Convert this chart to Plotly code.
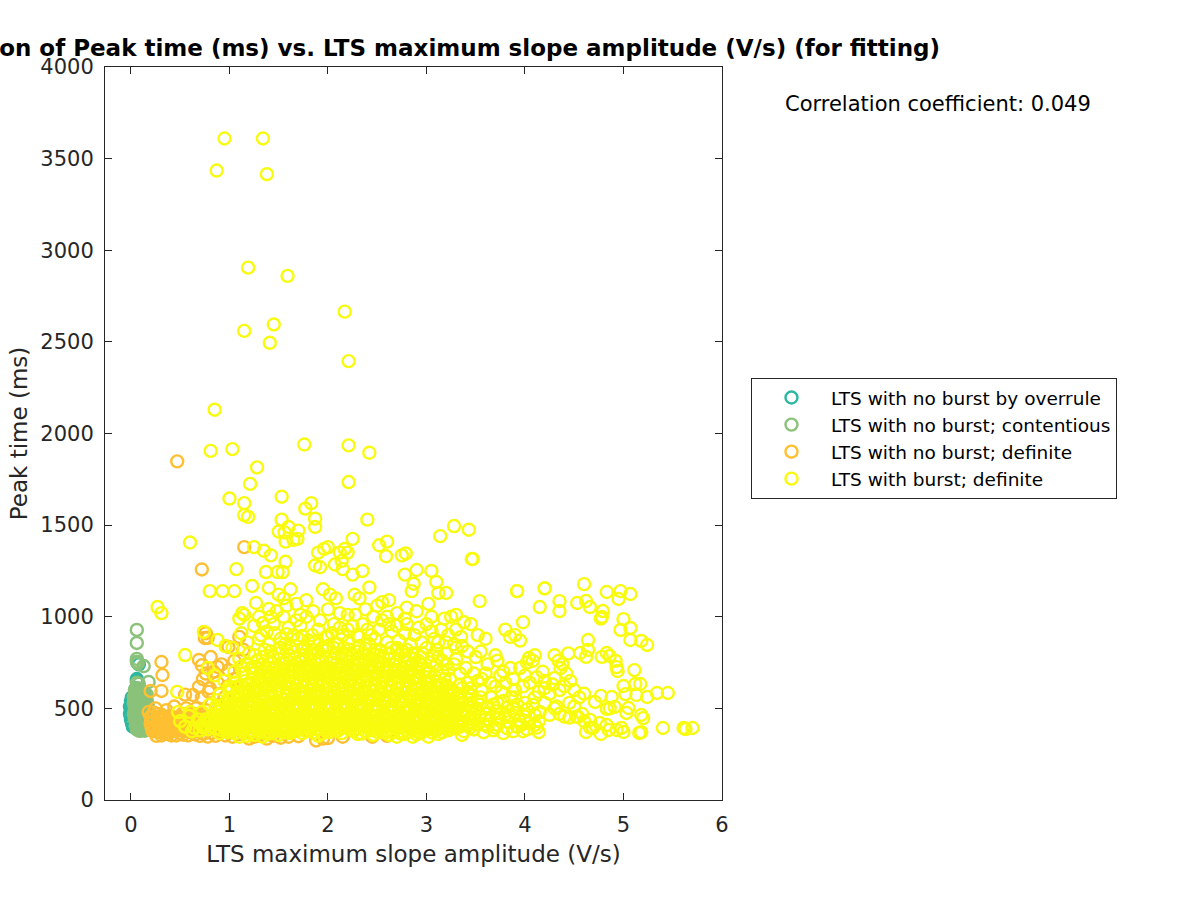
import plotly.graph_objects as go

title_text = "Correlation of Peak time (ms) vs. LTS maximum slope amplitude (V/s) (for fitting)"
x_label = "LTS maximum slope amplitude (V/s)"
y_label = "Peak time (ms)"
corr_text = "Correlation coefficient: 0.049"
names = ["LTS with no burst by overrule", "LTS with no burst; contentious", "LTS with no burst; definite", "LTS with burst; definite"]
colors = ["#2cb7a0", "#8bc27a", "#fec032", "#f9fb0e"]
x_ticks = [0, 1, 2, 3, 4, 5, 6]
y_ticks = [0, 500, 1000, 1500, 2000, 2500, 3000, 3500, 4000]

overrule = [(-.01,470),(-.01,510),(0,440),(0,490),(0,540),(.01,420),(.01,560),(.02,400),(.02,455),(.03,525),(.04,575),(.05,395),(.06,660),(.06,650),(.06,480),(.07,440),(.07,570),(.08,390),(.09,520),(.1,410),(.03,480),(.05,610),(.07,750),(.08,740)]

contentious = [(.06,928),(.06,857),(.06,770),(.06,755),(.07,745),(.13,731),(.18,644),(.08,634),(.06,640),(.1,600),(.13,590),(.04,600),(.07,610),(.15,560),(.03,560),(.06,570),(.1,565),(.14,540),(.17,520),(.03,530),(.07,530),(.11,525),(.04,500),(.08,495),(.12,500),(.16,490),(.03,470),(.07,465),(.11,470),(.15,465),(.18,450),(.04,440),(.08,435),(.12,440),(.16,430),(.05,410),(.09,405),(.13,410),(.17,405),(.07,395),(.11,390),(.15,392),(.19,395),(.06,385),
(.05,585),(.09,580),(.12,575),(.16,575),(.05,550),(.09,548),(.12,552),(.16,545),(.05,515),(.09,512),(.13,515),(.16,510),(.05,485),(.1,483),(.14,482),(.18,478),(.05,455),(.09,452),(.13,455),(.17,448),(.06,425),(.1,422),(.14,424),(.18,420),(.08,415),(.12,398),(.16,400),(.1,378),(.14,378),(.08,378)]

nb_definite = [(.47,1848),(1.15,1380),(.72,1258),(.76,910),(.78,885),(.75,884),(.31,753),(.32,682),(.31,595),(.2,595),(.69,764),(.72,735),(.81,780),(.99,835),(.88,726),(.99,709),(.63,573),(.69,617),(.76,690),(.84,700),(.92,740),(1.05,760),(1.1,890),(1.14,820),(.72,560),(.66,500),(.55,575),(.8,610),(.88,640),(.73,660),(.79,590),
(.18,480),(.22,450),(.25,500),(.28,470),(.32,440),(.36,490),(.4,460),(.44,510),(.48,430),(.52,470),(.56,500),(.6,440),(.64,470),(.68,420),(.72,450),(.76,490),(.2,420),(.24,400),(.28,420),(.32,390),(.36,420),(.4,400),(.44,420),(.48,390),(.52,410),(.56,390),(.6,410),(.64,385),(.68,400),(.72,385),(.76,410),(.8,385),(.84,405),(.88,380),(.92,400),
(.22,375),(.26,350),(.3,370),(.34,380),(.38,360),(.42,375),(.46,352),(.5,365),(.54,375),(.58,352),(.62,368),(.7,350),(.74,362),(.78,346),(.82,365),(.86,350),(.9,368),(.96,352),(1.03,345),(1.1,360),(1.2,335),(1.25,345),(1.38,335),(1.44,350),(1.52,340),(1.6,345),(1.7,348),(1.88,325),(1.95,335),(2.0,338),(2.15,345),(2.45,345),(2.6,350),(1.3,350),(.95,560),(1.0,480),(.9,520),(.98,620),(1.05,660),
(.21,395),(.25,385),(.29,395),(.33,410),(.37,395),(.41,385),(.45,400),(.49,412),(.53,385),(.57,420),(.61,385),(.65,425),(.69,375),(.24,435),(.27,445),(.31,465),(.35,450),(.38,440),(.42,435),(.46,445),(.5,450),(.54,440),(.58,455),(.62,470),(.66,450),(.7,470),(.2,455),(.23,478),(.27,372),(.31,352),(.35,362),(.41,352),(.47,378),(.53,356),(.59,375),(.65,358)]

burst_high = [(.95,3610),(1.34,3610),(1.38,3415),(.87,3435),(1.19,2905),(1.59,2860),(1.45,2595),(1.15,2560),(1.41,2495),(2.17,2665),(2.21,2395),(.85,2130),(.81,1905),(1.03,1915),(1.76,1940),(2.21,1935),(2.42,1895),(1.28,1815),(1.21,1725),(2.21,1735),(1.0,1645),(1.53,1655),(1.83,1620),(1.77,1590),(1.15,1620),(1.15,1555),(1.19,1545),(1.53,1530),(1.87,1535),(1.87,1490),(1.6,1490),(1.56,1460),(1.5,1465),(1.65,1420),(1.69,1425),(1.7,1470),(2.25,1425),(2.4,1530),(.6,1405),(1.57,1410)]

burst_upper = [(1.25,1380),(1.35,1360),(1.42,1335),(1.57,1300),(1.9,1350),(1.96,1370),(2.0,1380),(2.12,1350),(2.17,1370),(2.2,1350),(2.14,1305),(2.07,1285),(2.15,1260),(1.87,1280),(1.92,1270),(2.25,1230),(2.35,1250),(2.52,1390),(2.6,1410),(2.59,1330),(2.75,1335),(2.79,1345),(2.78,1230),(2.9,1255),(3.05,1250),(3.14,1440),(3.28,1495),(3.43,1475),(3.47,1315),(3.1,1190),(3.12,1130),(3.2,1130),(2.87,1180),(2.85,1140),(3.54,1085),(.27,1053),(.31,1020),(.55,791),(.47,590),(.48,480),(.59,458),(.74,917),(.88,873),(1.07,1260),(.8,1140),(.93,1140),(1.05,1140),(1.23,1168),(1.37,1244),(1.49,1244),(1.54,1244),(1.4,1157),(1.27,1075),(1.13,1020),(1.34,966),(1.4,1042),(1.1,990),(1.15,1010),(1.5,1120),(1.55,1100),(1.62,1150),(1.48,1030),(1.58,1060),(1.68,1070),(1.78,1090),(1.72,1010),(1.85,1030),(1.95,1150),(2.02,1120),(2.08,1100),(2.0,1040),(2.12,1020),(2.2,1010),(2.27,1120),(2.32,1100),(2.42,1160),(2.38,1040),(2.5,1060),(2.55,1080),(2.62,1090),(2.7,1020),(2.8,1050),(2.9,1030),(3.02,1070),(3.05,1000),(3.18,990),(3.25,1000),(3.3,1010),(3.38,970),(3.45,960),(3.52,900),(3.6,880),(3.7,790),(3.8,930),(3.85,890),(3.9,900),(3.98,970),(3.92,1140),(4.2,1155),(3.95,870),
(.96,840),(1.03,830),(1.12,910),(1.18,860),(1.25,950),(1.3,880),(1.38,920),(1.45,960),(1.52,880),(1.6,940),(1.65,900),(1.72,950),(1.8,870),(1.9,930),(1.98,890),(2.06,960),(2.15,900),(2.25,950),(2.32,890),(2.4,930),(2.48,880),(2.55,980),(2.65,920),(2.72,870),(2.8,960),(2.88,900),(2.95,860),(3.05,920),(3.12,860),(3.22,900),(3.28,850),(3.35,890),(3.42,810),(3.5,780),(3.55,810),(3.62,740),(3.72,760),(3.78,700),(3.85,720)]

burst_core = [(.78,720),(.85,680),(.95,650),(1.05,700),(1.12,730),(1.2,800),(1.28,760),(1.36,820),(1.44,780),(1.52,830),(1.6,790),(1.68,840),(1.76,790),(1.84,820),(1.92,780),(2.0,840),(2.08,800),(2.16,830),(2.24,790),(2.32,840),(2.4,790),(2.48,820),(2.56,780),(2.64,830),(2.72,790),(2.8,820),(2.88,770),(2.96,800),(3.04,750),(3.12,780),(3.2,740),(3.3,770),
(1.0,590),(1.08,620),(1.16,650),(1.24,690),(1.32,700),(1.4,720),(1.48,730),(1.56,745),(1.64,735),(1.72,755),(1.8,730),(1.88,745),(1.96,725),(2.04,750),(2.12,730),(2.2,755),(2.28,735),(2.36,750),(2.44,725),(2.52,745),(2.6,730),(2.68,740),(2.76,720),(2.84,735),(2.92,700),(3.0,715),(3.08,680),(3.16,700),(3.24,660),(3.34,690),(3.42,640),(3.52,650),
(.72,480),(.8,520),(.88,545),(.96,530),(1.04,560),(1.12,580),(1.2,600),(1.28,620),(1.36,640),(1.44,650),(1.52,665),(1.6,675),(1.68,660),(1.76,680),(1.84,665),(1.92,685),(2.0,670),(2.08,690),(2.16,670),(2.24,685),(2.32,665),(2.4,680),(2.48,660),(2.56,675),(2.64,655),(2.72,670),(2.8,650),(2.88,660),(2.96,630),(3.04,645),(3.12,615),(3.2,625),(3.28,590),(3.36,610),(3.46,570),(3.56,600),(3.66,560),(3.76,590),(3.86,560),
(1.1,520),(1.18,540),(1.26,560),(1.34,575),(1.42,590),(1.5,600),(1.58,610),(1.66,605),(1.74,620),(1.82,605),(1.9,620),(1.98,610),(2.06,625),(2.14,610),(2.22,625),(2.3,605),(2.38,620),(2.46,600),(2.54,615),(2.62,595),(2.7,610),(2.78,590),(2.86,600),(2.94,575),(3.02,585),(3.1,560),(3.18,570),(3.26,540),(3.34,555),(3.42,525),(3.52,540),(3.62,510),(3.72,530),(3.82,505),(3.92,520),(4.02,495),
(.5,430),(.6,480),(.68,440),(.76,440),(.84,470),(.92,490),(1.0,470),(1.08,480),(1.16,495),(1.24,510),(1.32,520),(1.4,535),(1.48,545),(1.56,550),(1.64,555),(1.72,560),(1.8,550),(1.88,565),(1.96,555),(2.04,570),(2.12,555),(2.2,570),(2.28,550),(2.36,565),(2.44,545),(2.52,560),(2.6,540),(2.68,555),(2.76,535),(2.84,545),(2.92,525),(3.0,535),(3.08,510),(3.16,520),(3.24,495),(3.32,505),(3.4,480),(3.5,495),(3.6,470),(3.7,485),(3.8,465),(3.9,475),(4.0,455),(4.1,465),
(.55,400),(.64,395),(.72,410),(.8,420),(.88,430),(.96,440),(1.04,430),(1.12,445),(1.2,455),(1.28,465),(1.36,475),(1.44,485),(1.52,495),(1.6,500),(1.68,505),(1.76,510),(1.84,500),(1.92,515),(2.0,505),(2.08,520),(2.16,505),(2.24,520),(2.32,500),(2.4,515),(2.48,495),(2.56,510),(2.64,490),(2.72,505),(2.8,485),(2.88,495),(2.96,475),(3.04,485),(3.12,465),(3.2,475),(3.28,455),(3.36,465),(3.44,445),(3.54,455),(3.64,435),(3.74,445),(3.84,425),(3.94,435),(4.04,420),(4.14,430),
(.62,375),(.7,380),(.78,385),(.86,390),(.94,400),(1.02,395),(1.1,410),(1.18,415),(1.26,425),(1.34,430),(1.42,440),(1.5,450),(1.58,455),(1.66,460),(1.74,465),(1.82,455),(1.9,470),(1.98,460),(2.06,475),(2.14,460),(2.22,475),(2.3,455),(2.38,470),(2.46,450),(2.54,465),(2.62,445),(2.7,460),(2.78,440),(2.86,450),(2.94,430),(3.02,445),(3.1,425),(3.18,435),(3.26,415),(3.34,425),(3.42,405),(3.52,415),(3.62,400),(3.72,410),(3.82,390),(3.92,400),(4.02,385),(4.12,395),
(.9,365),(.98,370),(1.06,365),(1.14,375),(1.22,380),(1.3,385),(1.38,395),(1.46,405),(1.54,410),(1.62,415),(1.7,420),(1.78,410),(1.86,425),(1.94,415),(2.02,430),(2.1,415),(2.18,430),(2.26,410),(2.34,425),(2.42,405),(2.5,420),(2.58,400),(2.66,415),(2.74,395),(2.82,410),(2.9,390),(2.98,405),(3.06,385),(3.14,395),(3.22,380),(3.3,390),(3.38,375),(3.48,385),(3.58,370),(3.68,380),(3.78,365),(3.88,375),(3.98,375),(4.14,370),
(1.1,345),(1.18,350),(1.26,355),(1.34,345),(1.42,365),(1.5,355),(1.58,370),(1.66,375),(1.74,365),(1.82,380),(1.9,350),(1.98,375),(2.06,385),(2.14,365),(2.22,385),(2.3,360),(2.38,375),(2.46,355),(2.54,375),(2.62,355),(2.7,345),(2.78,360),(2.86,345),(2.94,365),(3.02,345),(3.12,360),(3.24,385),(3.36,355)]

burst_fill_low = [(.74,395),(.82,402),(.91,382),(1.0,412),(1.07,388),(1.16,396),(1.24,402),(1.33,408),(1.4,415),(1.49,378),(1.56,385),(1.64,392),(1.72,385),(1.81,398),(1.88,388),(1.96,395),(2.04,402),(2.12,392),(2.2,408),(2.28,388),(2.36,400),(2.44,380),(2.52,395),(2.6,378),(2.68,392),(2.76,370),(2.84,385),(2.92,370),(3.0,382),(3.1,378),(3.2,405),(3.32,412),(3.44,395),
(.78,440),(.86,432),(.94,452),(1.03,458),(1.1,448),(1.19,438),(1.27,446),(1.35,452),(1.43,462),(1.51,428),(1.59,432),(1.67,438),(1.75,442),(1.83,432),(1.91,445),(1.99,438),(2.07,450),(2.15,440),(2.23,452),(2.31,432),(2.39,445),(2.47,428),(2.55,442),(2.63,424),(2.71,436),(2.79,418),(2.87,428),(2.95,410),(3.03,420),(3.11,402),(3.22,455),(3.32,440),(3.46,425),(3.58,412),
(.86,505),(.95,478),(1.04,498),(1.12,505),(1.2,480),(1.28,490),(1.36,498),(1.44,508),(1.52,520),(1.6,525),(1.68,530),(1.76,535),(1.84,525),(1.92,540),(2.0,530),(2.08,545),(2.16,530),(2.24,545),(2.32,525),(2.4,540),(2.48,520),(2.56,535),(2.64,515),(2.72,530),(2.8,510),(2.88,520),(2.96,500),(3.04,510),(3.12,490),(3.2,498),(3.28,480),(3.38,490),(3.48,470),
(.9,575),(1.0,545),(1.08,545),(1.16,570),(1.24,585),(1.32,598),(1.4,612),(1.48,622),(1.56,630),(1.64,640),(1.72,640),(1.8,635),(1.88,645),(1.96,640),(2.04,650),(2.12,640),(2.2,650),(2.28,640),(2.36,645),(2.44,630),(2.52,640),(2.6,625),(2.68,635),(2.76,620),(2.84,630),(2.92,605),(3.0,612),(3.08,590),(3.16,595),(3.24,570),(3.32,580),(3.44,550),(3.54,520)]

burst_fill_mid = [(.96,385),(1.03,375),(1.11,390),(1.2,365),(1.29,372),(1.37,362),(1.46,388),(1.54,372),(1.62,365),(1.7,395),(1.78,375),(1.86,368),(1.94,362),(2.02,372),(2.1,378),(2.18,395),(2.26,375),(2.34,362),(2.42,390),(2.5,372),(2.58,368),(2.66,375),(2.74,362),(2.82,372),(2.9,358),(2.98,378),(3.06,368),(3.16,370),(3.26,398),
(.84,420),(.92,418),(1.0,430),(1.08,428),(1.16,418),(1.24,440),(1.32,428),(1.4,425),(1.48,432),(1.56,440),(1.64,425),(1.72,445),(1.8,430),(1.88,440),(1.96,428),(2.04,442),(2.12,425),(2.2,445),(2.28,422),(2.36,440),(2.44,420),(2.52,435),(2.6,418),(2.68,435),(2.76,420),(2.84,415),(2.92,425),(3.0,408),(3.08,440),(3.16,415),(3.24,432),(3.34,400),
(.88,462),(.98,458),(1.06,462),(1.14,470),(1.22,478),(1.3,470),(1.38,455),(1.46,470),(1.54,478),(1.62,480),(1.7,490),(1.78,485),(1.86,490),(1.94,480),(2.02,495),(2.1,480),(2.18,492),(2.26,480),(2.34,488),(2.42,472),(2.5,485),(2.58,470),(2.66,480),(2.74,470),(2.82,478),(2.9,462),(2.98,458),(3.06,462),(3.14,450),(3.22,475),(3.3,470),(3.42,460),
(.92,515),(1.02,520),(1.1,500),(1.18,515),(1.26,530),(1.34,545),(1.42,525),(1.5,535),(1.58,580),(1.66,570),(1.74,585),(1.82,578),(1.9,590),(1.98,580),(2.06,592),(2.14,580),(2.22,595),(2.3,575),(2.38,590),(2.46,570),(2.54,582),(2.62,565),(2.7,578),(2.78,560),(2.86,572),(2.94,550),(3.02,558),(3.1,535),(3.18,545),(3.26,515),(3.36,530),(3.46,505),
(1.0,620),(1.08,590),(1.16,610),(1.24,640),(1.32,660),(1.4,680),(1.48,695),(1.56,710),(1.64,700),(1.72,720),(1.8,700),(1.88,715),(1.96,695),(2.04,715),(2.12,695),(2.2,715),(2.28,700),(2.36,715),(2.44,695),(2.52,715),(2.6,695),(2.68,710),(2.76,690),(2.84,700),(2.92,670),(3.0,640),(3.08,625),(3.16,630),(3.24,610),(3.34,630),(3.42,590),
(1.18,745),(1.26,790),(1.34,780),(1.42,810),(1.5,800),(1.58,815),(1.66,810),(1.74,825),(1.82,800),(1.9,810),(1.98,815),(2.06,830),(2.14,800),(2.22,820),(2.3,810),(2.38,825),(2.46,800),(2.54,815),(2.62,800),(2.7,820),(2.78,790),(2.86,800),(2.94,780),(3.06,790),(3.16,760),(3.28,740),(1.32,900),(1.46,910),(1.58,905),(1.74,895),(1.84,900),(2.04,910),(2.2,930),(2.44,900),(2.52,930),(2.62,960),(2.78,910),(2.92,940),(3.08,880),(3.2,860),(3.36,840)]

burst_fill_dense = [(.94,410),(1.02,446),(1.12,402),(1.21,428),(1.3,408),(1.39,372),(1.47,418),(1.55,432),(1.63,378),(1.71,408),(1.79,448),(1.87,405),(1.95,442),(2.03,415),(2.11,458),(2.19,412),(2.27,438),(2.35,462),(2.43,432),(2.51,402),(2.59,452),(2.67,398),(2.75,448),(2.83,402),(2.91,440),(2.99,392),(3.07,432),(3.15,448),(3.25,402),
(.98,500),(1.06,515),(1.14,530),(1.22,505),(1.3,500),(1.38,510),(1.46,525),(1.54,520),(1.62,548),(1.7,515),(1.78,568),(1.86,510),(1.94,572),(2.02,510),(2.1,565),(2.18,515),(2.26,565),(2.34,512),(2.42,560),(2.5,508),(2.58,552),(2.66,500),(2.74,545),(2.82,498),(2.9,542),(2.98,490),(3.06,530),(3.14,505),(3.22,520),(3.3,490),
(1.02,610),(1.12,625),(1.2,640),(1.28,600),(1.36,615),(1.44,625),(1.52,645),(1.6,650),(1.68,625),(1.76,655),(1.84,625),(1.92,660),(2.0,625),(2.08,665),(2.16,625),(2.24,660),(2.32,628),(2.4,655),(2.48,625),(2.56,655),(2.64,618),(2.72,645),(2.8,610),(2.88,635),(2.96,590),(3.04,610),(3.12,590),(3.22,595)]

burst_fill_high = [(1.06,640),(1.14,690),(1.22,720),(1.3,660),(1.38,680),(1.46,695),(1.54,705),(1.62,712),(1.7,705),(1.78,718),(1.86,705),(1.94,712),(2.02,705),(2.1,718),(2.18,705),(2.26,712),(2.34,705),(2.42,712),(2.5,695),(2.58,705),(2.66,695),(2.74,700),(2.82,695),(2.9,665),(3.0,670),(3.1,645),(3.18,660),
(1.1,770),(1.26,725),(1.34,740),(1.42,755),(1.5,770),(1.58,765),(1.66,775),(1.74,770),(1.82,770),(1.9,760),(1.98,770),(2.06,775),(2.14,770),(2.22,775),(2.3,770),(2.38,765),(2.46,765),(2.54,755),(2.62,770),(2.7,760),(2.78,755),(2.86,745),(2.94,740),(3.02,700),(3.1,735),(3.22,710),(3.4,720),(3.48,690),(3.6,690),(3.7,620),(3.8,640),(3.9,560),(3.45,610),(3.55,560),(3.68,520),(3.78,540),(3.88,500),(4.0,530),(3.72,450),(3.84,460),(3.96,410),(4.1,410),(3.6,440),(3.7,395),(3.5,440),(3.44,510),
(1.4,850),(1.56,850),(1.7,880),(1.86,860),(2.0,890),(2.1,850),(2.2,860),(2.3,900),(2.42,850),(2.6,860),(2.7,830),(2.84,850),(3.0,830),(3.1,820),(3.2,800),(3.3,830),(1.62,830),(1.76,830),(1.94,830),(2.18,790),(2.36,800),(2.52,790),(2.76,810),(2.92,760),(1.78,1000),(1.92,980),(2.28,1010),(2.46,1000),(2.6,1000),(2.78,990),(3.0,960),(3.15,930),(3.3,930),(1.68,980),(1.55,1000),(1.42,1000),(1.3,1000),(2.12,940),(2.35,960),(2.7,950)]

burst_right = [(3.46,1315),(3.92,1140),(4.2,1155),(4.6,1178),(4.83,1135),(4.97,1140),(5.07,1124),(4.95,1097),(4.35,1085),(4.15,1053),(4.35,1031),(4.53,1075),(4.62,1086),(4.66,1053),(4.79,1031),(4.78,999),(4.77,990),(5.0,987),(5.07,939),(4.97,928),(5.07,873),(5.18,868),(5.24,846),(4.64,873),(4.64,819),(4.62,781),(4.56,802),(4.78,781),(4.83,802),(4.86,786),(4.92,759),(4.93,725),(4.94,704),(5.11,709),(5.0,622),(5.17,633),(5.12,633),(5.02,578),(5.13,573),(5.24,562),(5.34,584),(5.45,584),(5.40,393),(5.61,393),(5.63,387),(5.70,393),(5.16,366),(5.18,370),(5.2,447),(5.18,464),(5.0,371),(4.98,393),(4.93,382),(4.83,409),(4.85,382),(4.77,360),(4.62,371),(4.69,393),(4.76,420),(4.66,437),(4.54,453),(4.58,470),(4.71,535),(4.77,568),(4.88,562),(4.91,508),(4.83,497),(4.86,500),(5.05,502),(5.03,475),
(4.02,750),(4.08,760),(4.1,790),(4.04,775),(3.95,720),(4.0,680),(4.12,670),(4.2,650),(4.28,630),(4.3,665),(4.34,760),(4.38,740),(4.36,720),(4.42,690),(4.46,650),(4.2,610),(4.14,590),(4.1,560),(4.25,580),(4.35,600),(4.4,620),(4.5,600),(4.55,560),(4.6,580),(4.45,530),(4.5,510),(4.3,500),(4.2,530),(4.15,480),(4.25,465),(4.35,470),(4.4,455),(4.45,450),(4.52,455),(4.6,430),(4.66,395),(4.32,510),(4.08,520),(3.98,620),(3.9,600),(3.88,660),(4.05,640),(4.18,700),(4.44,800),(4.3,790),(3.75,680),(3.65,640),(3.56,660)]

def col(pairs, i):
    return [p[i] for p in pairs]

burst = burst_upper + burst_fill_high + burst_core + burst_fill_low + burst_fill_mid + burst_fill_dense + burst_right + burst_high
groups = [overrule, contentious, nb_definite, burst]

fig = go.Figure()
for name, pts, c in zip(names, groups, colors):
    fig.add_trace(go.Scatter(
        x=col(pts, 0), y=col(pts, 1), mode="markers", name=name,
        marker=dict(symbol="circle-open", size=12, color=c, line=dict(width=2.4, color=c)),
    ))

axis_common = dict(showgrid=False, zeroline=False, mirror="allticks", ticks="inside", ticklen=7,
                   tickwidth=1, tickcolor="#262626", showline=True, linecolor="#262626", linewidth=1,
                   ticklabelstandoff=6,
                   tickfont=dict(family="DejaVu Sans", size=21, color="#262626"))
fig.update_layout(
    width=1200, height=900, paper_bgcolor="white", plot_bgcolor="white", showlegend=True,
    margin=dict(l=104.5, r=478, t=67, b=100, autoexpand=False),
    font=dict(family="DejaVu Sans", color="#262626"),
    title=dict(text=f"<b>{title_text}</b>", x=413/1200, xref="container", xanchor="center",
               y=1-48/900, yanchor="middle", font=dict(family="DejaVu Sans", size=23, color="black")),
    xaxis=dict(range=[-0.263, 6], tickvals=x_ticks, title=dict(text=x_label, standoff=9,
               font=dict(family="DejaVu Sans", size=23, color="#262626")), **axis_common),
    yaxis=dict(range=[0, 4000], tickvals=y_ticks, title=dict(text=y_label, standoff=6,
               font=dict(family="DejaVu Sans", size=23, color="#262626")), **axis_common),
    legend=dict(x=(751-104.5)/617.5, y=(800-378)/733, xanchor="left", yanchor="top",
                bordercolor="#262626", borderwidth=1, bgcolor="white", itemwidth=69,
                entrywidth=303, entrywidthmode="pixels", traceorder="normal",
                font=dict(family="DejaVu Sans", size=18.5, color="black")),
    annotations=[dict(text=corr_text, xref="paper", yref="paper", x=(783-104.5)/617.5, y=(800-104)/733,
                      xanchor="left", yanchor="middle", showarrow=False,
                      font=dict(family="DejaVu Sans", size=21, color="black"))],
)
fig.write_html("out.html", post_script="document.body.style.margin='0';", config={"displayModeBar": False})
